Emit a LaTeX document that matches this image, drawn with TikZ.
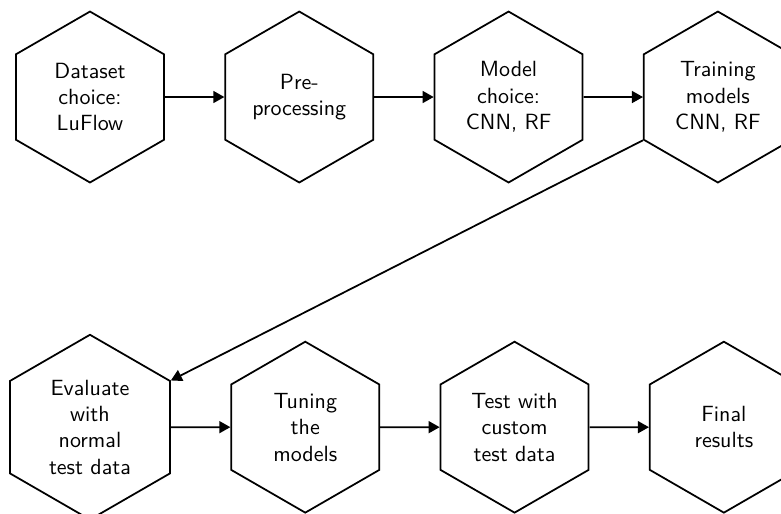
\documentclass[tikz,border=0pt]{standalone}
\usepackage{tikz}
\usetikzlibrary{arrows.meta, positioning, shapes.geometric}

\begin{document}
\begin{tikzpicture}[
  stage/.style={regular polygon, regular polygon sides=6, shape border rotate=30,
    draw, thick, minimum size=77.7pt, inner sep=1pt, align=center, font=\sffamily},
  bigstage/.style={stage, minimum size=84pt},
  flow/.style={thick, -{Triangle[length=5pt, width=5.4pt]}},
  node distance=2.4cm and 0.95cm,
]
  \useasboundingbox (-40.9pt,44.1pt) rectangle (314.1pt,-189.1pt);
  \clip (-40.9pt,44.1pt) rectangle (314.1pt,-189.1pt);

  \node[stage] (data) at (0,0) {Dataset\\choice:\\LuFlow};
  \node[stage, right=of data] (prep) {Pre-\\processing};
  \node[stage, right=of prep] (model) {Model\\choice:\\CNN, RF};
  \node[stage, right=of model] (train) {Training\\models\\CNN, RF};

  \node[bigstage, below=of data] (eval) {Evaluate\\with\\normal\\test data};
  \node[stage, right=of eval] (tune) {Tuning\\the\\models};
  \node[stage, right=of tune] (test) {Test with\\custom\\test data};
  \node[stage, right=of test] (final) {Final\\results};

  \draw[flow] (data) -- (prep);
  \draw[flow] (prep) -- (model);
  \draw[flow] (model) -- (train);
  \draw[flow] (train.210) -- (eval.30);
  \draw[flow] (eval) -- (tune);
  \draw[flow] (tune) -- (test);
  \draw[flow] (test) -- (final);
\end{tikzpicture}
\end{document}
